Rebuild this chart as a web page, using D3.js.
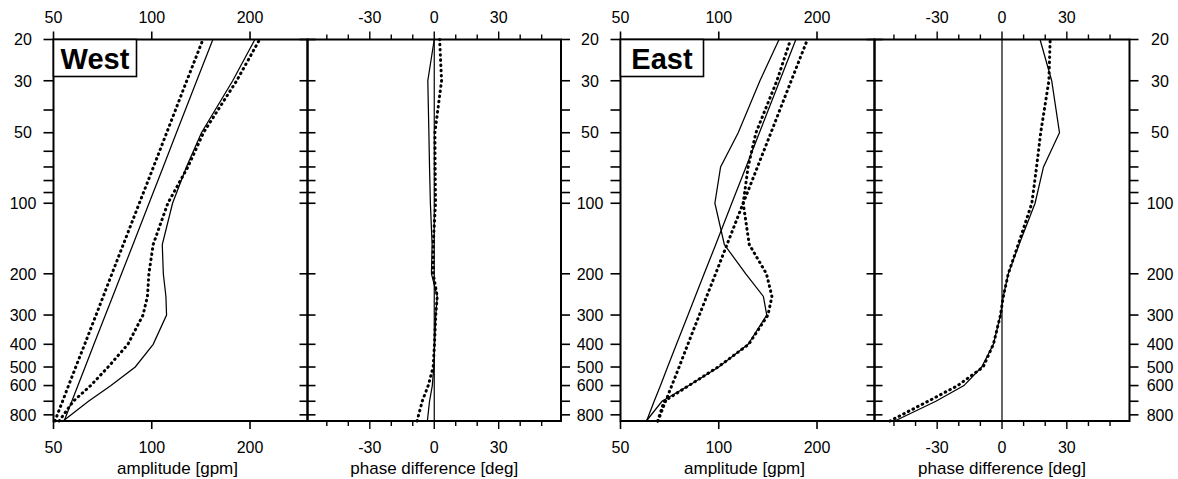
<!DOCTYPE html>
<html><head><meta charset="utf-8">
<script src="https://cdn.jsdelivr.net/npm/d3@7"></script>
<style>
body{margin:0;background:#fff}
svg{display:block}
text{font-family:"Liberation Sans",Arial,Helvetica,sans-serif;fill:#000}
</style>
</head><body>
<svg id="c" width="1178" height="479"></svg>
<script>
// pressure levels [hPa]
const levels = [850, 700, 600, 500, 400, 300, 250, 200, 150, 100, 70, 50, 30, 20];

// West: amplitude [gpm]
const westAmpSolidRef = [53.9, 56.9, 59.4, 62.5, 66.5, 72.1, 75.9, 80.8, 87.6, 98.1, 108.4, 119.0, 137.3, 153.9];
const westAmpDotRef   = [50.5, 53.3, 55.6, 58.5, 62.3, 67.5, 71.0, 75.5, 81.8, 91.6, 101.2, 111.1, 128.0, 143.5];
const westAmpSolid    = [53.5, 64, 75, 89, 101, 111, 110.5, 108.5, 107.7, 115.8, 127.7, 142, 177, 207];
const westAmpDot      = [52, 57.5, 65, 73.5, 84.5, 94, 97, 98, 101, 112, 129, 144, 182, 214];
// West: phase difference [deg]
const westPhaseSolid  = [-3.2, -2.2, -0.9, -0.2, 0.2, 0.7, 1.4, -1.3, -1.0, -1.8, -2.2, -2.5, -3.0, 0];
const westPhaseDot    = [-8.0, -5.6, -2.8, -0.5, 0.1, 0.7, 1.4, -0.5, -0.5, 0.6, 0.4, 0.3, 3.4, 2.5];

// East: amplitude [gpm]
const eastAmpSolidRef = [60.1, 63.4, 66.3, 69.7, 74.2, 80.5, 84.7, 90.2, 97.9, 109.6, 121.2, 133.2, 153.7, 172.3];
const eastAmpDotRef   = [65.1, 68.7, 71.8, 75.6, 80.4, 87.2, 91.8, 97.8, 106, 118.8, 131.4, 144.5, 166.7, 186.9];
const eastAmpSolid    = [60, 67, 81, 100, 123, 140.3, 137, 121, 104, 97.3, 101.3, 114.7, 133.7, 153];
const eastAmpDot      = [65, 68, 81, 99.5, 123.5, 141.5, 145.5, 140, 124, 118.8, 123, 130, 150.7, 166];
// East: phase difference [deg]
const eastPhaseSolid  = [-49.6, -30.6, -17.6, -9.4, -4.0, -0.7, 0.6, 2.9, 7.9, 15.3, 19.2, 26.6, 23, 17.6];
const eastPhaseDot    = [-51.9, -34.2, -20.5, -8.7, -4.0, -0.7, 0.6, 2.9, 7.5, 13.8, 16, 17.9, 21.7, 22.3];

// axis ticks / labels
const pTicks  = [20, 30, 40, 50, 60, 70, 80, 90, 100, 200, 300, 400, 500, 600, 700, 800];
const pLabels = [20, 30, 50, 100, 200, 300, 400, 500, 600, 800];
const ampTicks = [50, 100, 200];
const phaseTicks = [-50, -40, -30, -20, -10, 0, 10, 20, 30, 40, 50];
const phaseLabels = [-30, 0, 30];
const ampTitle = "amplitude [gpm]";
const phaseTitle = "phase difference [deg]";
const regions = ["West", "East"];

const svg = d3.select("#c");
const T = 39.5, B = 421;
const y = d3.scaleLog().domain([20, 850]).range([T, B]);
const FS = 16;

const groups = [
  {name: regions[0], amp: [53.5, 307.5], ph: [307.5, 561], labL: 23, labR: 590,
   ampS: [westAmpSolidRef, westAmpSolid], ampD: [westAmpDotRef, westAmpDot],
   phS: westPhaseSolid, phD: westPhaseDot},
  {name: regions[1], amp: [620.5, 874.5], ph: [874.5, 1129.5], labL: 590, labR: 1160,
   ampS: [eastAmpSolidRef, eastAmpSolid], ampD: [eastAmpDotRef, eastAmpDot],
   phS: eastPhaseSolid, phD: eastPhaseDot}
];

function drawLine(g, xs, vals, dotted) {
  const line = d3.line().x(d => xs(d[1])).y(d => y(d[0]));
  const p = g.append("path").datum(levels.map((l, i) => [l, vals[i]]))
    .attr("d", line).attr("fill", "none").attr("stroke", "#000");
  if (dotted) p.attr("stroke-width", 3).attr("stroke-dasharray", "0.6,4.6").attr("stroke-linecap", "round");
  else p.attr("stroke-width", 1.25);
}

const labelsDone = new Set();
function yLabels(cx) {
  if (labelsDone.has(cx)) return;
  labelsDone.add(cx);
  pLabels.forEach(p => svg.append("text").attr("x", cx).attr("y", y(p)).attr("dy", "0.36em")
    .attr("text-anchor", "middle").attr("font-size", FS).text(p));
}

groups.forEach(G => {
  const xa = d3.scaleLog().domain([50, 300]).range(G.amp);
  const xp = d3.scaleLinear().domain([-59, 59]).range(G.ph);
  const g = svg.append("g");

  // zero line in phase panel
  g.append("line").attr("x1", xp(0)).attr("x2", xp(0)).attr("y1", T).attr("y2", B)
    .attr("stroke", "#000").attr("stroke-width", 1.2);

  // curves
  G.ampS.forEach(v => drawLine(g, xa, v, false));
  G.ampD.forEach(v => drawLine(g, xa, v, true));
  drawLine(g, xp, G.phS, false);
  drawLine(g, xp, G.phD, true);

  // frames
  [G.amp, G.ph].forEach(r => g.append("rect").attr("x", r[0]).attr("y", T)
    .attr("width", r[1] - r[0]).attr("height", B - T)
    .attr("fill", "none").attr("stroke", "#000").attr("stroke-width", 2));

  // y ticks
  pTicks.forEach(p => {
    const yy = y(p);
    g.append("line").attr("x1", G.amp[0] - 10).attr("x2", G.amp[0]).attr("y1", yy).attr("y2", yy).attr("stroke", "#000").attr("stroke-width", 1.6);
    g.append("line").attr("x1", G.amp[1] - 8).attr("x2", G.amp[1] + 8).attr("y1", yy).attr("y2", yy).attr("stroke", "#000").attr("stroke-width", 1.6);
    g.append("line").attr("x1", G.ph[1]).attr("x2", G.ph[1] + 9).attr("y1", yy).attr("y2", yy).attr("stroke", "#000").attr("stroke-width", 1.6);
  });

  // x ticks amplitude
  ampTicks.forEach(v => {
    const xx = xa(v);
    g.append("line").attr("x1", xx).attr("x2", xx).attr("y1", T - 8).attr("y2", T).attr("stroke", "#000").attr("stroke-width", 1.6);
    g.append("line").attr("x1", xx).attr("x2", xx).attr("y1", B).attr("y2", B + 8).attr("stroke", "#000").attr("stroke-width", 1.6);
    svg.append("text").attr("x", xx).attr("y", 22.5).attr("text-anchor", "middle").attr("font-size", FS).text(v);
    svg.append("text").attr("x", xx).attr("y", 452.5).attr("text-anchor", "middle").attr("font-size", FS).text(v);
  });
  // x ticks phase
  phaseTicks.forEach(v => {
    const xx = xp(v);
    const len = phaseLabels.includes(v) ? 8 : 5;
    g.append("line").attr("x1", xx).attr("x2", xx).attr("y1", T - len).attr("y2", T).attr("stroke", "#000").attr("stroke-width", 1.4);
    g.append("line").attr("x1", xx).attr("x2", xx).attr("y1", B).attr("y2", B + len).attr("stroke", "#000").attr("stroke-width", 1.4);
  });
  phaseLabels.forEach(v => {
    svg.append("text").attr("x", xp(v)).attr("y", 22.5).attr("text-anchor", "middle").attr("font-size", FS).text(v);
    svg.append("text").attr("x", xp(v)).attr("y", 452.5).attr("text-anchor", "middle").attr("font-size", FS).text(v);
  });

  // titles
  svg.append("text").attr("x", (G.amp[0] + G.amp[1]) / 2 - 3).attr("y", 474).attr("text-anchor", "middle").attr("font-size", 17).text(ampTitle);
  svg.append("text").attr("x", (G.ph[0] + G.ph[1]) / 2).attr("y", 474).attr("text-anchor", "middle").attr("font-size", 17).text(phaseTitle);

  // y labels
  yLabels(G.labL);
  yLabels(G.labR);

  // region box
  g.append("rect").attr("x", G.amp[0]).attr("y", T).attr("width", 83).attr("height", 37)
    .attr("fill", "#fff").attr("stroke", "#000").attr("stroke-width", 1.6);
  g.append("text").attr("x", G.amp[0] + 41.5).attr("y", 68.5).attr("text-anchor", "middle")
    .attr("font-size", 29).attr("font-weight", "bold").text(G.name);
});
</script>
</body></html>
